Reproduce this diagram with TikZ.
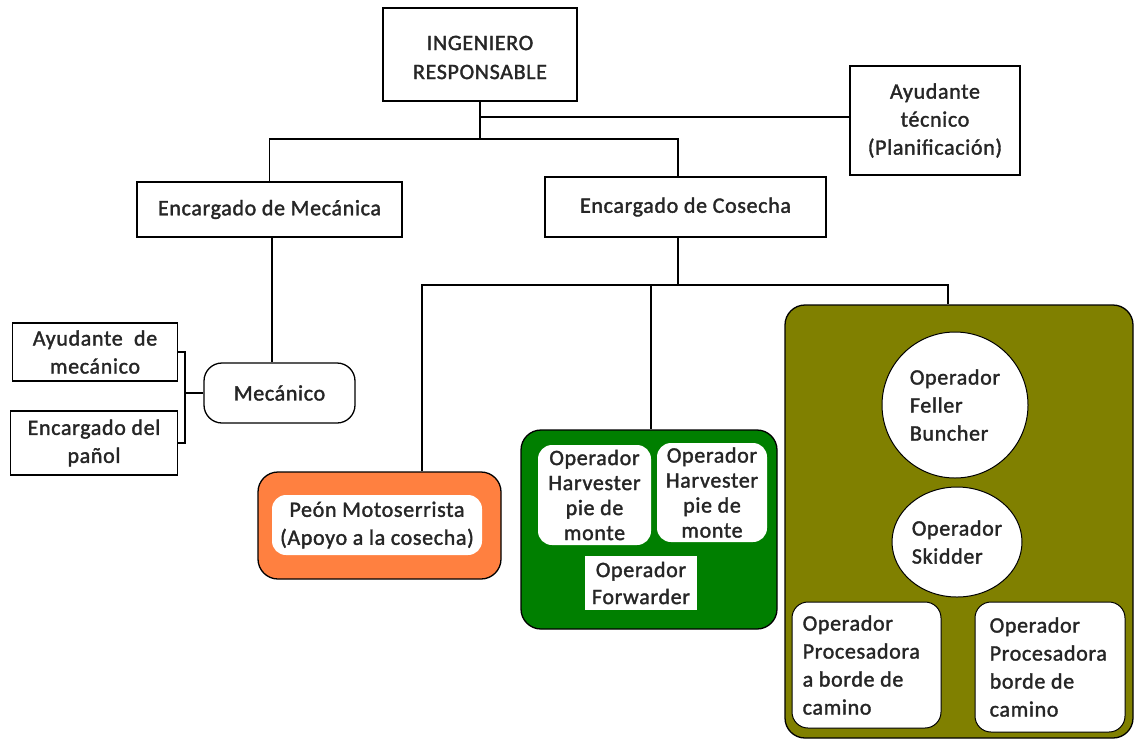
\documentclass[tikz,border=0pt]{standalone}
\usepackage{fontspec}
\setmainfont{Carlito}[LetterSpace=3, FakeBold=1.6]
\usetikzlibrary{shapes.geometric}
\definecolor{orangefill}{HTML}{FF8040}
\definecolor{greenfill}{HTML}{007F00}
\definecolor{olivefill}{HTML}{808000}
\begin{document}
\begin{tikzpicture}[x=1pt,y=-1pt,
  every node/.style={font=\fontsize{22}{28}\selectfont, align=center, inner sep=0pt, text=black!85},
  box/.style={draw, line width=1.3pt, fill=white},
  rbox/.style={box, rounded corners=18pt},
  panel/.style={draw, line width=1.3pt, rounded corners=20pt},
  inner/.style={fill=white, rounded corners=14pt},
  link/.style={line width=1.3pt}]
\useasboundingbox (0,0) rectangle (1135,740);

% top levels
\node[box, minimum width=194pt, minimum height=93pt] (ing) at (480,54.5) {};
\node[font=\fontsize{22}{29}\selectfont] (ingtxt) at ([yshift=-3pt]ing.center)
  {INGENIERO\\RESPONSABLE};
\node[box, minimum width=170pt, minimum height=109pt] (ayt) at (935,120.5)
  {Ayudante\\técnico\\(Planificación)};
\node[box, minimum width=265pt, minimum height=55pt] (mec) at (269.5,209.5)
  {Encargado de Mecánica};
\node[box, minimum width=281pt, minimum height=60pt] (cos) at (685.5,207)
  {Encargado de Cosecha};

% mechanics branch
\node[rbox, minimum width=151pt, minimum height=60pt] (mcn) at (279.5,393) {Mecánico};
\node[box, minimum width=165pt, minimum height=58pt] (aym) at (95,352)
  {Ayudante\ \ de\\mecánico};
\node[box, minimum width=167pt, minimum height=64pt] (pan) at (94,443)
  {Encargado del\\pañol};

% harvesting crews
\node[panel, fill=orangefill, minimum width=243pt, minimum height=107pt] (peon) at (379.5,525.5) {};
\node[inner, minimum width=210pt, minimum height=60pt] (peonin) at (377,525)
  {Peón Motoserrista\\(Apoyo a la cosecha)};

\node[panel, fill=greenfill, minimum width=256pt, minimum height=199pt] (grp) at (649,529.5) {};
\node[inner, minimum width=113pt, minimum height=100pt, font=\fontsize{22}{25}\selectfont] (hv1) at (594.5,495)
  {Operador\\Harvester\\pie de\\monte};
\node[inner, minimum width=110pt, minimum height=99pt, font=\fontsize{22}{25}\selectfont] (hv2) at (712,492.5)
  {Operador\\Harvester\\pie de\\monte};
\node[fill=white, minimum width=112pt, minimum height=54pt, font=\fontsize{22}{27}\selectfont] (fwd) at (641,583)
  {Operador\\Forwarder};

\node[panel, fill=olivefill, minimum width=348pt, minimum height=433pt] (olv) at (959,521.5) {};
\node[circle, draw, line width=1pt, fill=white, minimum size=146pt] (fel) at (955,405) {};
\node[align=left] (feltxt) at (fel.center) {Operador\\Feller\\Buncher};
\node[ellipse, draw, line width=1pt, fill=white, minimum width=130pt, minimum height=110pt] (skd) at (957,542) {};
\node[align=left] (skdtxt) at (skd.center) {Operador\\Skidder};
\node[draw, line width=1pt, fill=white, rounded corners=16pt, minimum width=149pt, minimum height=126pt] (pr1) at (866.5,665) {};
\node[align=left, anchor=west] (pr1txt) at ([xshift=11pt]pr1.west) {Operador\\Procesadora\\a borde de\\camino};
\node[draw, line width=1pt, fill=white, rounded corners=16pt, minimum width=150pt, minimum height=130pt] (pr2) at (1050,667) {};
\node[align=left, anchor=west] (pr2txt) at ([xshift=15pt]pr2.west) {Operador\\Procesadora\\borde de\\camino};

% connectors
\coordinate (ja) at (480,117);
\coordinate (jb) at (480,139);
\coordinate (jc) at (678,285);
\coordinate (jd) at (185,393);
\coordinate (je) at (272,0);

\draw[link] (ing.south) -- (jb);
\draw[link] (ja) -- (ja -| ayt.west);
\draw[link] (mec.north) |- (jb) -| (cos.north -| jc);
\draw[link] (mec.south -| je) -- (mcn.north -| je);
\draw[link] (cos.south -| jc) -- (jc);
\draw[link] (peon.north -| 422,0) |- (jc) -| (olv.north -| 948,0);
\draw[link] (jc -| 651,0) -- (grp.north -| 651,0);
\draw[link] (mcn.west) -- (jd);
\draw[link] (aym.east) -| (jd) |- (pan.east);
\end{tikzpicture}
\end{document}
